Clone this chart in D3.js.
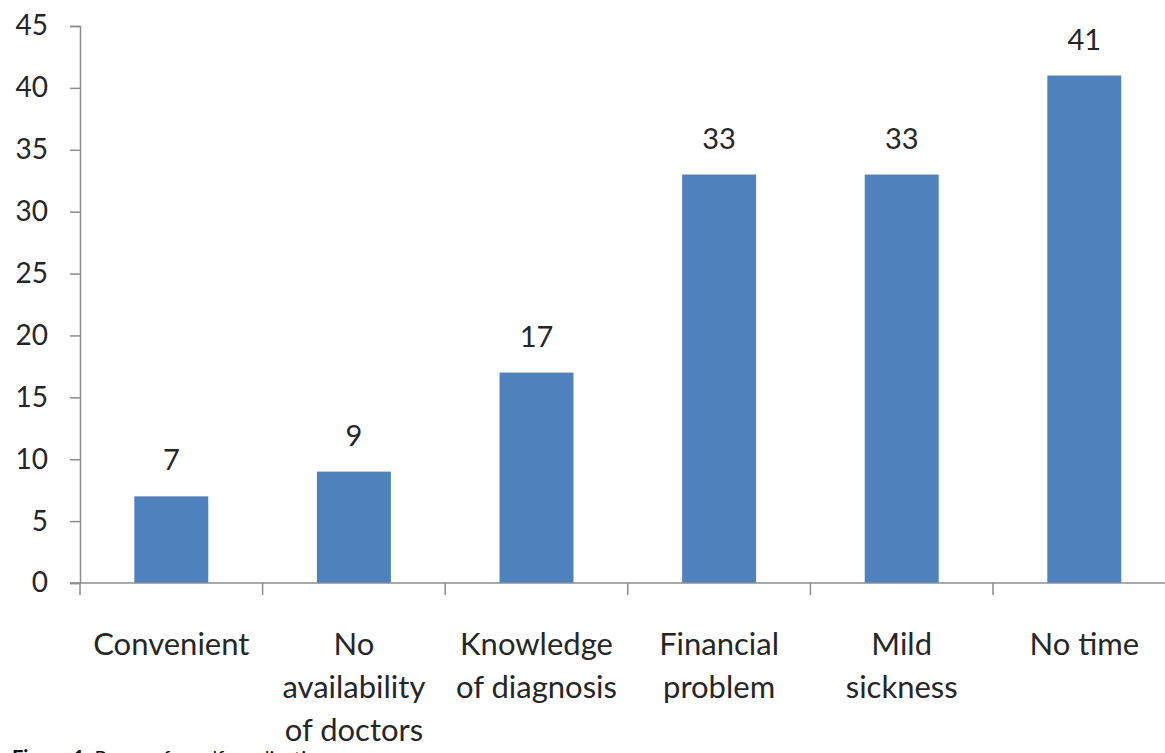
<!DOCTYPE html>
<html>
<head>
<meta charset="utf-8">
<script src="https://cdn.jsdelivr.net/npm/d3@7"></script>
<style>
  html, body { margin: 0; padding: 0; background: #fff; }
  svg { display: block; }
</style>
</head>
<body>
<svg id="chart" width="1165" height="753"></svg>
<script>
const categories = [
  ["Convenient"],
  ["No", "availability", "of doctors"],
  ["Knowledge", "of diagnosis"],
  ["Financial", "problem"],
  ["Mild", "sickness"],
  ["No time"]
];
const values = [7, 9, 17, 33, 33, 41];
const yTicks = [0, 5, 10, 15, 20, 25, 30, 35, 40, 45];

const svg = d3.select("#chart");
const font = "Lato, 'Open Sans', sans-serif";
const x0 = 80, x1 = 1175.6, yBase = 583, yTop = 26;

const x = d3.scaleBand().domain(d3.range(categories.length)).range([x0, x1]).padding(0);
const y = d3.scaleLinear().domain([0, 45]).range([yBase, yTop]);

const axisColor = "#8c8c8c";
const textColor = "#262626";

// Y axis
const yAxis = svg.append("g").attr("transform", `translate(${x0},0)`)
  .call(d3.axisLeft(y).tickValues(yTicks).tickSize(10).tickPadding(22).tickFormat(d3.format("d")));
yAxis.select(".domain").attr("stroke", axisColor).attr("stroke-width", 1.5);
yAxis.selectAll(".tick line").attr("stroke", axisColor).attr("stroke-width", 1.5);
yAxis.selectAll(".tick text").attr("font-family", font).attr("font-size", 28).attr("fill", textColor);

// Bars
const barW = x.bandwidth() * 0.405;
svg.append("g").selectAll("rect").data(values).join("rect")
  .attr("x", (d, i) => x(i) + x.bandwidth() / 2 - barW / 2)
  .attr("y", d => y(d))
  .attr("width", barW)
  .attr("height", d => y(0) - y(d))
  .attr("fill", "#4f81bd");

// Value labels
svg.append("g").selectAll("text").data(values).join("text")
  .attr("x", (d, i) => x(i) + x.bandwidth() / 2)
  .attr("y", d => y(d) - 26)
  .attr("text-anchor", "middle")
  .attr("font-family", font).attr("font-size", 29).attr("fill", textColor)
  .text(d => d);

// X axis line and ticks
svg.append("line").attr("x1", 70).attr("x2", x1).attr("y1", yBase).attr("y2", yBase)
  .attr("stroke", axisColor).attr("stroke-width", 1.5);
svg.append("g").selectAll("line").data(d3.range(categories.length + 1)).join("line")
  .attr("x1", i => x0 + i * x.step()).attr("x2", i => x0 + i * x.step())
  .attr("y1", yBase).attr("y2", yBase + 12)
  .attr("stroke", axisColor).attr("stroke-width", 1.5);

// Category labels
const lab = svg.append("g").selectAll("text").data(categories).join("text")
  .attr("text-anchor", "middle")
  .attr("font-family", font).attr("font-size", 31).attr("fill", textColor);
lab.each(function(lines, i) {
  const t = d3.select(this);
  lines.forEach((ln, j) => {
    t.append("tspan").attr("x", x(i) + x.bandwidth() / 2).attr("y", 655 + j * 43).text(ln);
  });
});

// Caption (partially cut off at bottom, as in the source figure)
const cap = svg.append("text").attr("x", 12).attr("y", 765)
  .attr("font-family", font).attr("font-size", 20).attr("fill", "#111");
cap.append("tspan").attr("font-weight", "bold").text("Figure 1: ");
cap.append("tspan").text("Reason for self-medication");
</script>
</body>
</html>
